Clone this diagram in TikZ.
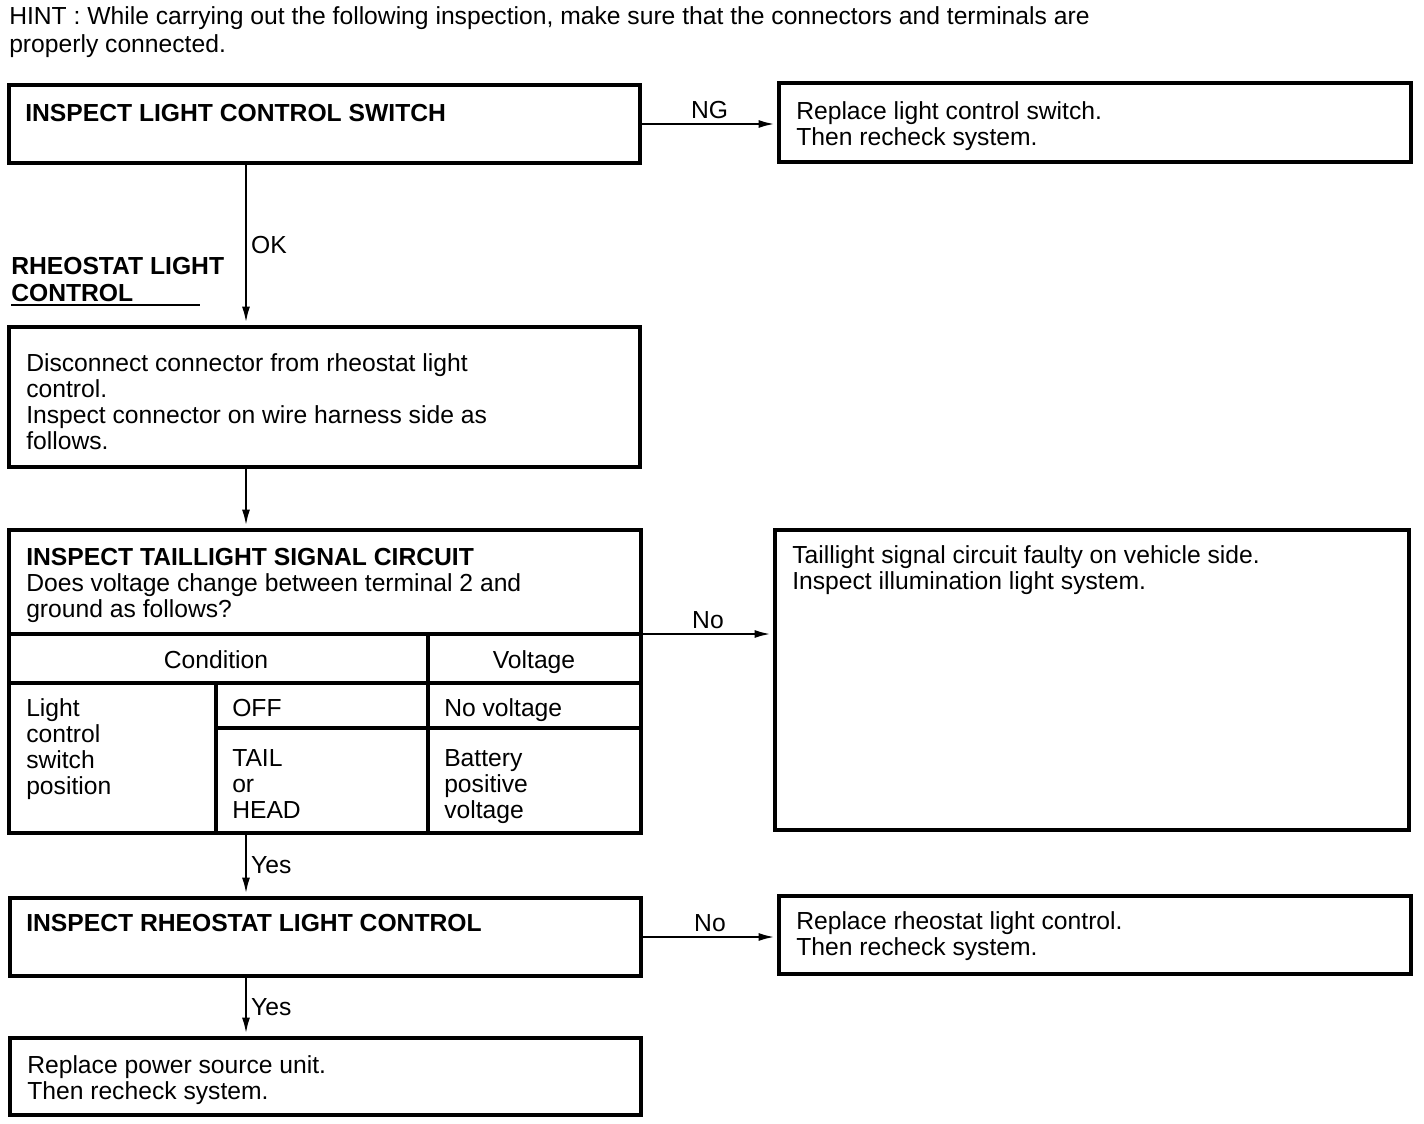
\documentclass[tikz,border=0pt]{standalone}
\usepackage{fontspec}
\setmainfont{Liberation Sans}
\usetikzlibrary{arrows.meta,fit}

\tikzset{
  box/.style={draw, line width=2.5pt, inner sep=0pt},
  rule/.style={line width=2.5pt},
  arr/.style={line width=1.7pt, -{Latex[length=12pt,width=6pt]}, shorten >=2pt},
  txt/.style={inner sep=0pt, align=left, anchor=base west, font=\fontsize{18.5}{19.5}\selectfont},
  cell/.style={txt, anchor=base},
  lab/.style={inner sep=3pt, font=\fontsize{18.5}{19.5}\selectfont},
}

\begin{document}
\begin{tikzpicture}[x=0.75pt,y=0.75pt,yscale=-1,xscale=1]
\useasboundingbox (0,0) rectangle (1424,1124);
\fill[white] (0,0) rectangle (1424,1124);

% Text Node (placed by its last line)
\node[txt, font=\fontsize{18.5}{21}\selectfont] (hint) at (9,53) {HINT : While carrying out the following inspection, make sure that the connectors and terminals are\\properly connected.};

%Shape: Rectangle
\node[box, fit={(9,85) (640,163)}] (sw) {};
% Text Node
\node[txt] (swt) at (25,121) {\textbf{INSPECT LIGHT CONTROL SWITCH}};

%Shape: Rectangle
\node[box, fit={(779,83) (1411,162)}] (ng) {};
% Text Node
\node[txt] (ngt) at (796,145) {Replace light control switch.\\Then recheck system.};

% Text Node
\node[txt, font=\bfseries\fontsize{18.5}{20.25}\selectfont] (rh) at (11,301) {RHEOSTAT LIGHT\\CONTROL};
\draw[line width=1.8pt] (11,305) -- (200,305);

%Shape: Rectangle
\node[box, fit={(9,327) (640,467)}] (disc) {};
% Text Node
\node[txt] (disct) at (26,449) {Disconnect connector from rheostat light\\control.\\Inspect connector on wire harness side as\\follows.};

%Shape: Rectangle
\node[box, fit={(9,530) (641,833)}] (tl) {};
% Text Node
\node[txt] (tlt) at (26,617) {\textbf{INSPECT TAILLIGHT SIGNAL CIRCUIT}\\Does voltage change between terminal 2 and\\ground as follows?};

% table rules
\coordinate (hl) at (0,634);
\draw[rule] (tl.west |- hl) -- (tl.east |- hl);
\draw[rule] (9,683) -- (641,683);
\draw[rule] (216,728) -- (641,728);
\draw[rule] (216,683) -- (216,833);
\draw[rule] (428,634) -- (428,833);

% Text Node
\node[cell] (cond) at (216,668) {Condition};
% Text Node
\node[cell] (volt) at (534,668) {Voltage};
% Text Node
\node[txt] (pos) at (26,794) {Light\\control\\switch\\position};
% Text Node
\node[txt] (off) at (232,716) {OFF};
% Text Node
\node[txt] (nov) at (444,716) {No voltage};
% Text Node
\node[txt] (tail) at (232,818) {TAIL\\or\\HEAD};
% Text Node
\node[txt] (bat) at (444,818) {Battery\\positive\\voltage};

%Shape: Rectangle
\node[box, fit={(775,530) (1409,830)}] (tlf) {};
% Text Node
\node[txt] (tlft) at (792,589) {Taillight signal circuit faulty on vehicle side.\\Inspect illumination light system.};

%Shape: Rectangle
\node[box, fit={(10,898) (641,976)}] (ir) {};
% Text Node
\node[txt] (irt) at (26,931) {\textbf{INSPECT RHEOSTAT LIGHT CONTROL}};

%Shape: Rectangle
\node[box, fit={(779,896) (1411,974)}] (rr) {};
% Text Node
\node[txt] (rrt) at (796,955) {Replace rheostat light control.\\Then recheck system.};

%Shape: Rectangle
\node[box, fit={(10,1038) (641,1115)}] (ps) {};
% Text Node
\node[txt] (pst) at (27,1099) {Replace power source unit.\\Then recheck system.};

%Straight Lines
\coordinate (xa) at (246,0);
\draw[arr] (sw.south -| xa) -- node[lab, right] {OK} (disc.north -| xa);
\draw[arr] (disc.south -| xa) -- (tl.north -| xa);
\draw[arr] (tl.south -| xa) -- node[lab, right] {Yes} (ir.north -| xa);
\draw[arr] (ir.south -| xa) -- node[lab, right] {Yes} (ps.north -| xa);
\draw[arr] (sw.east) -- node[lab, above] {NG} (sw.east -| ng.west);
\draw[arr] (tl.east |- hl) -- node[lab, above] {No} (tlf.west |- hl);
\draw[arr] (ir.east) -- node[lab, above] {No} (ir.east -| rr.west);

\end{tikzpicture}
\end{document}
